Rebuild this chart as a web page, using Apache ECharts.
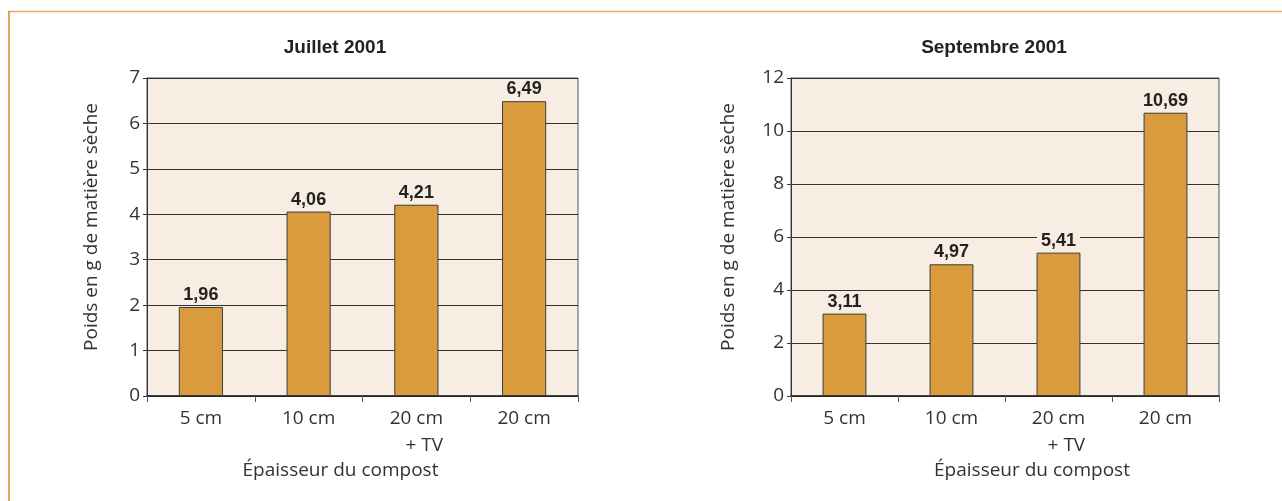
<!DOCTYPE html>
<html><head><meta charset="utf-8">
<script src="https://cdn.jsdelivr.net/npm/echarts@6/dist/echarts.min.js"></script>
<style>html,body{margin:0;padding:0;background:#fff}#c{width:1282px;height:501px}</style>
</head><body><div id="c"></div>
<script>
const categories = ['5 cm', '10 cm', '20 cm\n+ TV', '20 cm'];
const juilletValues = [1.96, 4.06, 4.21, 6.49];
const septembreValues = [3.11, 4.97, 5.41, 10.69];
const titles = ['Juillet 2001', 'Septembre 2001'];
const yName = 'Poids en g de matière sèche';
const xName = 'Épaisseur du compost';

const plotBg = '#f7ede2';
const barColor = '#da9b3c';
const lightFont = '"Open Sans", "Noto Sans", sans-serif';
const boldFont = '"Liberation Sans Narrow", "Liberation Sans", sans-serif';

const chart = echarts.init(document.getElementById('c'));

function xAxis(idx, padding) {
  return {
    type: 'category', gridIndex: idx, data: categories,
    axisLine: { lineStyle: { color: '#222', width: 1.5 } },
    axisTick: { show: true, length: 6, interval: 0, lineStyle: { color: '#555' } },
    axisLabel: {
      interval: 0,
      margin: 9, color: '#333', fontFamily: lightFont, fontSize: 19,
      formatter: function (v) {
        const parts = v.split('\n');
        if (parts.length > 1) return '{a|' + parts[0] + '}\n{b|' + parts[1] + '}';
        return '{a|' + v + '}';
      },
      rich: {
        a: { fontFamily: lightFont, fontSize: 19, color: '#333', lineHeight: 27 },
        b: { fontFamily: lightFont, fontSize: 19, color: '#333', lineHeight: 27, align: 'right' }
      }
    },
    name: xName, nameLocation: 'middle', nameGap: 65,
    nameTextStyle: { fontFamily: lightFont, fontSize: 19, color: '#333', padding: padding }
  };
}
function yAxis(idx, max, interval, gap) {
  return {
    type: 'value', gridIndex: idx, min: 0, max: max, interval: interval,
    axisLine: { show: true, lineStyle: { color: '#333', width: 1 } },
    axisTick: { show: true, length: 4, lineStyle: { color: '#333' } },
    axisLabel: { margin: 7, color: '#333', fontFamily: lightFont, fontSize: 19 },
    splitLine: { lineStyle: { color: '#333', width: 1 } },
    name: yName, nameLocation: 'middle', nameGap: gap, nameRotate: 90,
    nameTextStyle: { fontFamily: lightFont, fontSize: 19, color: '#333', padding: [0, 0, 0, 20] }
  };
}
function barSeries(idx, data) {
  return {
    type: 'bar', xAxisIndex: idx, yAxisIndex: idx, data: data,
    barWidth: '41%',
    itemStyle: { color: barColor, borderColor: '#3d3d3d', borderWidth: 1 },
    label: {
      show: true, position: 'top', distance: 3,
      fontFamily: boldFont, fontWeight: 'bold', fontSize: 18, color: '#222',
      backgroundColor: plotBg, padding: [0, 4, 0, 4],
      formatter: function (p) { return p.value.toFixed(2).replace('.', ','); }
    }
  };
}

chart.setOption({
  animation: false,
  backgroundColor: '#fff',
  title: [
    { text: titles[0], left: 330, top: 33, textAlign: 'center',
      textStyle: { fontFamily: boldFont, fontWeight: 'bold', fontSize: 19, color: '#222' } },
    { text: titles[1], left: 989, top: 33, textAlign: 'center',
      textStyle: { fontFamily: boldFont, fontWeight: 'bold', fontSize: 19, color: '#222' } }
  ],
  grid: [
    { left: 147, right: 704, top: 78, bottom: 105, show: true, backgroundColor: plotBg, borderColor: '#555', borderWidth: 1 },
    { left: 791, right: 63, top: 78, bottom: 105, show: true, backgroundColor: plotBg, borderColor: '#555', borderWidth: 1 }
  ],
  xAxis: [xAxis(0, [0, 44, 0, 0]), xAxis(1, [0, 0, 0, 54])],
  yAxis: [yAxis(0, 7, 1, 46), yAxis(1, 12, 2, 53)],
  series: [barSeries(0, juilletValues), barSeries(1, septembreValues)],
  graphic: [
    { type: 'line', shape: { x1: 8, y1: 11.5, x2: 1282, y2: 11.5 }, style: { stroke: '#e8a95c', lineWidth: 1.5 } },
    { type: 'line', shape: { x1: 9, y1: 11, x2: 9, y2: 501 }, style: { stroke: '#d88b2c', lineWidth: 1.5 } }
  ]
});
</script>
</body></html>
